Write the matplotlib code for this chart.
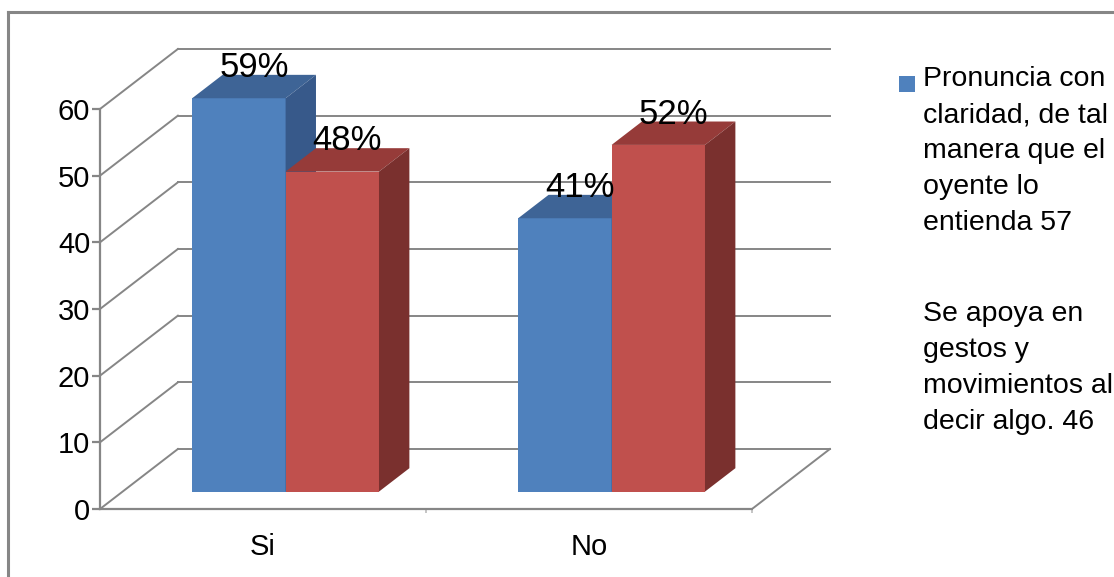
import matplotlib
matplotlib.use('Agg')
import matplotlib.pyplot as plt
from matplotlib.patches import Polygon, Rectangle
from matplotlib.lines import Line2D

plt.rcParams['font.family'] = ['Liberation Sans', 'DejaVu Sans']

# datos
categorias = ['Si', 'No']
serie_1 = [59, 41]   # Pronuncia con claridad...
serie_2 = [48, 52]   # Se apoya en gestos...
etiquetas_1 = ['59%', '41%']
etiquetas_2 = ['48%', '52%']
yticks = [0, 10, 20, 30, 40, 50, 60]
leyenda_1 = ['Pronuncia con', 'claridad, de tal', 'manera que el', 'oyente lo', 'entienda 57']
leyenda_2 = ['Se apoya en', 'gestos y', 'movimientos al', 'decir algo. 46']

# estilo / geometria 3D falsa
W, H = 1114, 577
DX, DY = 0.239, 9.0          # desplazamiento de profundidad (unidades de datos)
D0, D1 = 0.29, 0.68          # profundidad de las barras
ANCHO = 0.2865
GRIS = '#868686'
colores = {
    'azul': ('#4F81BD', '#3E6496', '#37598A'),
    'rojo': ('#C0504D', '#963B39', '#7A302E'),
}

fig = plt.figure(figsize=(W / 100, H / 100), dpi=100)
X1, Y1 = 2.3, 72
ax = fig.add_axes([100 / W, 68 / H, 326 * X1 / W, 6.667 * Y1 / H])
ax.set_xlim(0, X1)
ax.set_ylim(0, Y1)
ax.patch.set_visible(False)

for s in ['top', 'right']:
    ax.spines[s].set_visible(False)
ax.spines['left'].set_bounds(0, 60)
ax.spines['bottom'].set_bounds(0, 2)
for s in ['left', 'bottom']:
    ax.spines[s].set_color(GRIS)
    ax.spines[s].set_linewidth(1.6)

ax.set_yticks(yticks)
ax.tick_params(axis='y', length=6, width=1.6, color=GRIS, labelsize=21, pad=1)
ax.set_xticks([0.5, 1.5], labels=categorias)
ax.tick_params(axis='x', which='major', length=0, labelsize=21, pad=17)
ax.set_xticks([1, 2], minor=True)
ax.tick_params(axis='x', which='minor', length=3, width=1.2, color='#bbbbbb')

# paredes y piso
for v in yticks:
    ax.plot([0, DX], [v, v + DY], color=GRIS, lw=1.4, zorder=1)
    ax.plot([DX, 2 + DX], [v + DY, v + DY], color=GRIS, lw=1.4, zorder=1)
ax.plot([2, 2 + DX], [0, DY], color=GRIS, lw=1.4, zorder=1)


def barra(x0, v, col):
    frente, arriba, lado = col
    x1 = x0 + ANCHO
    a0, b0 = D0 * DX, D0 * DY
    a1, b1 = D1 * DX, D1 * DY
    ax.add_patch(Polygon([(x0 + a0, b0), (x1 + a0, b0), (x1 + a0, v + b0), (x0 + a0, v + b0)],
                         closed=True, facecolor=frente, edgecolor='none', zorder=3))
    ax.add_patch(Polygon([(x0 + a0, v + b0), (x1 + a0, v + b0), (x1 + a1, v + b1), (x0 + a1, v + b1)],
                         closed=True, facecolor=arriba, edgecolor='none', zorder=3))
    ax.add_patch(Polygon([(x1 + a0, b0), (x1 + a1, b1), (x1 + a1, v + b1), (x1 + a0, v + b0)],
                         closed=True, facecolor=lado, edgecolor='none', zorder=3))


for i, cat in enumerate(categorias):
    centro = i + 0.5
    barra(centro - ANCHO, serie_1[i], colores['azul'])
    barra(centro, serie_2[i], colores['rojo'])
    for x0, v, t in [(centro - ANCHO, serie_1[i], etiquetas_1[i]), (centro, serie_2[i], etiquetas_2[i])]:
        ax.text(x0 + ANCHO / 2 + (D0 + D1) / 2 * DX, v + D1 * DY - 0.3, t,
                ha='center', va='baseline', fontsize=25, zorder=5)

# leyenda
fig.add_artist(Rectangle((899 / W, 1 - 92 / H), 16 / W, 16 / H, transform=fig.transFigure,
                         facecolor='#4F81BD', edgecolor='none'))
fig.text(923 / W, 1 - 66 / H, '\n'.join(leyenda_1), fontsize=20.5, va='top', ha='left', linespacing=1.5)
fig.text(923 / W, 1 - 301 / H, '\n'.join(leyenda_2), fontsize=20.5, va='top', ha='left', linespacing=1.5)

# marco exterior
fig.add_artist(Line2D([8 / W, 8 / W], [0, 1 - 12 / H], transform=fig.transFigure, color=GRIS, lw=2.2))
fig.add_artist(Line2D([8 / W, 1], [1 - 12 / H, 1 - 12 / H], transform=fig.transFigure, color=GRIS, lw=2.2))

fig.savefig('out.png', dpi=100)
